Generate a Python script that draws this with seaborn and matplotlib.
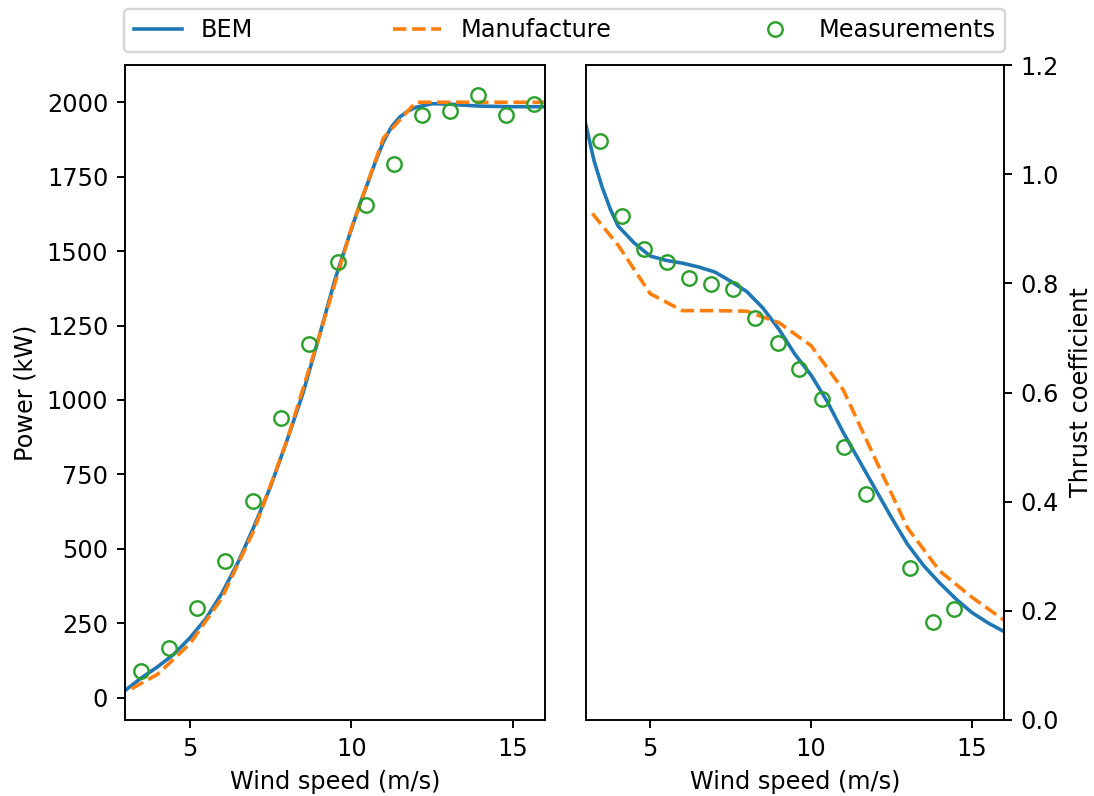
import numpy as np
import pandas as pd
import matplotlib
matplotlib.use("Agg")
import matplotlib.pyplot as plt
import seaborn as sns

# ---- Power curve (kW) ----
bem_ws = [3.0, 3.5, 4.0, 4.5, 5.0, 5.5, 6.0, 6.5, 7.0, 7.5, 8.0, 8.5, 9.0, 9.5,
          10.0, 10.25, 10.5, 10.75, 11.0, 11.25, 11.5, 11.75, 12.0, 12.5, 13.0,
          13.5, 14.0, 15.0, 16.0]
bem_power = [24, 66, 103, 145, 200, 265, 351, 455, 577, 708, 860, 1020, 1210, 1405,
             1572, 1652, 1725, 1800, 1868, 1918, 1950, 1970, 1983, 1995, 1994,
             1990, 1987, 1985, 1985]

man_ws = [3.2, 4, 5, 6, 7, 8, 9, 10, 11, 12, 13, 14, 15, 16]
man_power = [30, 78, 180, 335, 565, 860, 1210, 1575, 1880, 2000, 2000, 2000, 2000, 2000]

meas_p_ws = [3.50, 4.36, 5.23, 6.10, 6.97, 7.84, 8.70, 9.58, 10.45, 11.32,
             12.19, 13.06, 13.93, 14.80, 15.67]
meas_power = [91, 166, 301, 460, 659, 941, 1188, 1462, 1655, 1793,
              1956, 1972, 2025, 1956, 1994]

# ---- Thrust coefficient ----
bem_ct_ws = [3.0, 3.25, 3.5, 3.75, 4.0, 4.5, 5.0, 5.5, 6.0, 6.5, 7.0, 7.5, 8.0,
             8.5, 9.0, 9.5, 10.0, 10.5, 11.0, 11.5, 12.0, 12.5, 13.0, 13.5,
             14.0, 14.5, 15.0, 15.5, 16.0]
bem_ct = [1.09, 1.025, 0.977, 0.937, 0.905, 0.874, 0.850, 0.842, 0.837, 0.830,
          0.821, 0.804, 0.785, 0.755, 0.716, 0.670, 0.632, 0.584, 0.527, 0.475,
          0.423, 0.371, 0.322, 0.283, 0.251, 0.222, 0.197, 0.178, 0.162]

man_ct = [0.928, 0.870, 0.781, 0.750, 0.750, 0.749, 0.728, 0.686, 0.605, 0.478,
          0.352, 0.273, 0.225, 0.183]

meas_ct_ws = [3.44, 4.12, 4.81, 5.51, 6.19, 6.89, 7.58, 8.27, 8.96, 9.64,
              10.33, 11.02, 11.70, 13.08, 13.78, 14.46]
meas_ct = [1.060, 0.924, 0.863, 0.840, 0.809, 0.799, 0.789, 0.736, 0.691, 0.643,
           0.588, 0.500, 0.414, 0.279, 0.179, 0.203]

labels = ["BEM", "Manufacture", "Measurements"]
c_bem, c_man, c_meas = "#1f77b4", "#ff7f0e", "#2ca02c"

DPI = 173
fig = plt.figure(figsize=(1094 / DPI, 796 / DPI), dpi=DPI)
ax1 = fig.add_axes([0.1143, 0.0955, 0.3839, 0.8228])
ax2 = fig.add_axes([0.5356, 0.0955, 0.3821, 0.8228])


def draw(ax, x_b, y_b, x_m, y_m, x_o, y_o):
    sns.lineplot(x=x_b, y=y_b, ax=ax, color=c_bem, lw=1.5, label=labels[0],
                 legend=False, sort=False, estimator=None)
    sns.lineplot(x=x_m, y=y_m, ax=ax, color=c_man, lw=1.5, linestyle="--",
                 label=labels[1], legend=False, sort=False, estimator=None)
    sns.lineplot(x=x_o, y=y_o, ax=ax, color=c_meas, linestyle="", marker="o",
                 markersize=6, markerfacecolor="none", markeredgecolor=c_meas,
                 markeredgewidth=1.0, label=labels[2], legend=False,
                 sort=False, estimator=None)
    ax.set_xlim(3, 16)
    ax.set_xticks([5, 10, 15])
    ax.set_xlabel("Wind speed (m/s)")


draw(ax1, bem_ws, bem_power, man_ws, man_power, meas_p_ws, meas_power)
ax1.set_ylim(-75, 2125)
ax1.set_yticks(np.arange(0, 2001, 250))
ax1.set_ylabel("Power (kW)")

draw(ax2, bem_ct_ws, bem_ct, man_ws, man_ct, meas_ct_ws, meas_ct)
ax2.set_ylim(0, 1.2)
ax2.set_yticks(np.arange(0, 1.21, 0.2))
ax2.yaxis.tick_right()
ax2.yaxis.set_label_position("right")
ax2.set_ylabel("Thrust coefficient")

handles, labs = ax1.get_legend_handles_labels()
fig.legend(handles, labs, loc="lower left", ncol=3, mode="expand",
           bbox_to_anchor=(0.1134, 0.9347, 0.8052, 0.05), borderaxespad=0)

fig.savefig("out.png", dpi=DPI)
